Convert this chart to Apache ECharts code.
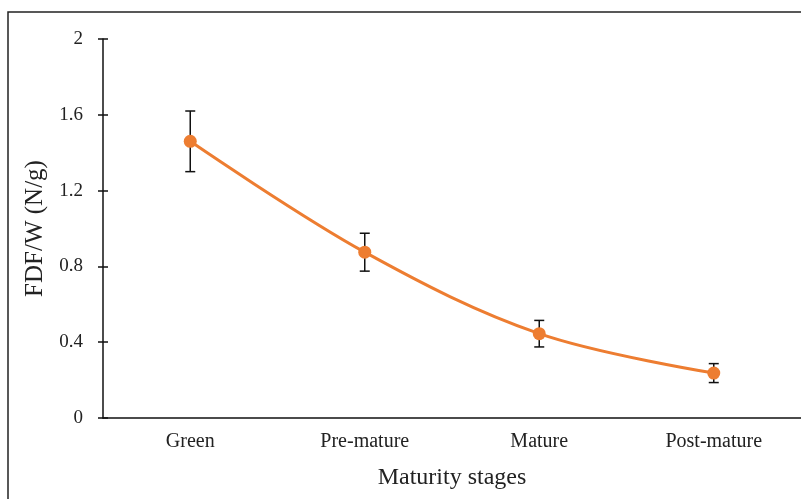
<!DOCTYPE html>
<html>
<head>
<meta charset="utf-8">
<script src="https://cdn.jsdelivr.net/npm/echarts@6/dist/echarts.min.js"></script>
<style>html,body{margin:0;padding:0;background:#fff;}#c{width:801px;height:499px;}</style>
</head>
<body>
<div id="c"></div>
<script>
const categories = ['Green', 'Pre-mature', 'Mature', 'Post-mature'];
const values = [1.46, 0.875, 0.445, 0.237];
const errors = [0.16, 0.1, 0.07, 0.05];
const yTicks = [0, 0.4, 0.8, 1.2, 1.6, 2];

const chart = echarts.init(document.getElementById('c'), null, {renderer: 'canvas'});
const font = 'Liberation Serif';
const errData = categories.map((c, i) => [i, values[i] - errors[i], values[i] + errors[i]]);

chart.setOption({
  animation: false,
  backgroundColor: '#fff',
  grid: {left: 103, top: 39, width: 702, height: 379, containLabel: false},
  graphic: [{
    type: 'rect', shape: {x: 8, y: 12, width: 820, height: 520},
    style: {fill: 'none', stroke: '#222', lineWidth: 1.5}, z: 100
  }],
  xAxis: {
    type: 'category', data: categories, boundaryGap: true,
    name: 'Maturity stages', nameLocation: 'middle', nameGap: 48,
    nameTextStyle: {fontFamily: font, fontSize: 24, color: '#222'},
    axisLine: {lineStyle: {color: '#111', width: 1.5}},
    axisTick: {show: false},
    axisLabel: {fontFamily: font, fontSize: 20, color: '#222', margin: 14},
    splitLine: {show: false}
  },
  yAxis: [{
    type: 'value', min: yTicks[0], max: yTicks[yTicks.length - 1], interval: 0.4,
    name: 'FDF/W (N/g)', nameLocation: 'middle', nameGap: 47,
    nameTextStyle: {fontFamily: font, fontSize: 25, color: '#222'},
    axisLine: {show: true, lineStyle: {color: '#111', width: 1.5}},
    axisTick: {show: true, inside: false, length: 5, lineStyle: {color: '#111', width: 1.5}},
    axisLabel: {fontFamily: font, fontSize: 19, color: '#222', margin: 20,
      formatter: v => String(Math.round(v * 10) / 10)},
    splitLine: {show: false}
  }, {
    type: 'value', min: yTicks[0], max: yTicks[yTicks.length - 1], interval: 0.4,
    position: 'left', offset: 0,
    axisLine: {show: false},
    axisTick: {show: true, inside: true, length: 5, lineStyle: {color: '#111', width: 1.5}},
    axisLabel: {show: false},
    splitLine: {show: false}
  }],
  series: [{
    type: 'custom',
    data: errData,
    z: 1,
    renderItem: function (params, api) {
      const x = api.value(0);
      const lo = api.coord([x, api.value(1)]);
      const hi = api.coord([x, api.value(2)]);
      const w = 5;
      const st = {stroke: '#111', lineWidth: 1.5};
      return {type: 'group', children: [
        {type: 'line', shape: {x1: lo[0], y1: lo[1], x2: hi[0], y2: hi[1]}, style: st},
        {type: 'line', shape: {x1: lo[0] - w, y1: lo[1], x2: lo[0] + w, y2: lo[1]}, style: st},
        {type: 'line', shape: {x1: hi[0] - w, y1: hi[1], x2: hi[0] + w, y2: hi[1]}, style: st}
      ]};
    }
  }, {
    type: 'line',
    data: values,
    z: 5,
    smooth: 0.35,
    symbol: 'circle',
    symbolSize: 13,
    lineStyle: {color: '#ED7D31', width: 3},
    itemStyle: {color: '#ED7D31'}
  }]
});
</script>
</body>
</html>
